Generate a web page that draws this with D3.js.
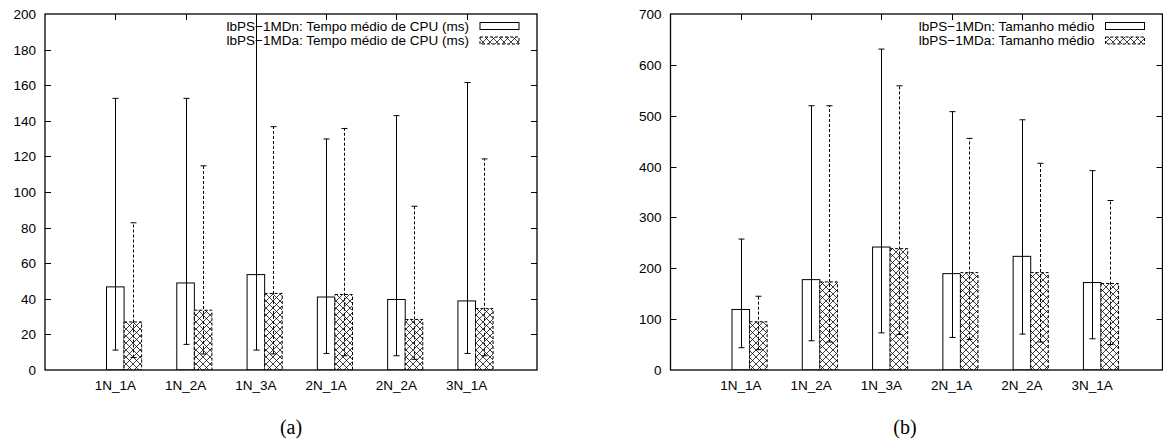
<!DOCTYPE html>
<html>
<head>
<meta charset="utf-8">
<script src="https://cdn.jsdelivr.net/npm/d3@7"></script>
<style>
  html, body { margin: 0; padding: 0; background: #fff; }
  svg { display: block; }
  text { font-family: "Liberation Sans", Arial, sans-serif; fill: #000; }
  .caption { font-family: "Liberation Serif", "DejaVu Serif", serif; }
</style>
</head>
<body>
<svg id="chart" width="1163" height="447"></svg>
<script>
// Configurations of nodes / agents
const categories = ["1N_1A", "1N_2A", "1N_3A", "2N_1A", "2N_2A", "3N_1A"];

// (a) mean CPU time (ms) with min/max range
const cpuMeanN = [46.7, 48.9, 53.6, 41.0, 39.6, 38.8];
const cpuLowN  = [11.2, 14.4, 11.2, 9.3, 8.0, 9.3];
const cpuHighN = [152.6, 152.6, 230, 129.8, 142.9, 161.5];
const cpuMeanA = [27.0, 33.6, 43.0, 42.4, 28.4, 34.5];
const cpuLowA  = [7, 9, 9, 8, 6, 8];
const cpuHighA = [82.7, 114.7, 136.7, 135.7, 92.0, 118.6];
const cpuTicks = [0, 20, 40, 60, 80, 100, 120, 140, 160, 180, 200];

// (b) mean size with min/max range
const sizeMeanN = [119, 177.7, 241.8, 189.5, 223.5, 172];
const sizeLowN  = [43.8, 57.5, 73, 64, 70.6, 61.4];
const sizeHighN = [257.5, 519.6, 631, 508, 492, 392];
const sizeMeanA = [94.8, 173.2, 238.6, 191.5, 191.5, 170];
const sizeLowA  = [40, 55, 70, 60, 55, 50];
const sizeHighA = [145, 519.6, 558.8, 455.5, 406.5, 333.3];
const sizeTicks = [0, 100, 200, 300, 400, 500, 600, 700];

const svg = d3.select("#chart");

// cross-hatch fill for the "1MDa" series
const defs = svg.append("defs");
const pat = defs.append("pattern")
  .attr("id", "xhatch")
  .attr("patternUnits", "userSpaceOnUse")
  .attr("width", 7).attr("height", 7);
pat.append("rect").attr("width", 7).attr("height", 7).attr("fill", "#fff");
pat.append("path")
  .attr("d", "M0,0L7,7M7,0L0,7M-1,6L1,8M6,-1L8,1")
  .attr("stroke", "#000").attr("stroke-width", 0.75).attr("fill", "none");
pat.append("rect").attr("x", 3).attr("y", 3).attr("width", 1).attr("height", 1).attr("fill", "#000");

function drawPanel(opts) {
  const { id, left, right, top, bottom, yMax, ticks, meanN, lowN, highN,
          meanA, lowA, highA, labelN, labelA } = opts;

  const x = d3.scaleLinear().domain([-1, 6]).range([left, right]);
  const y = d3.scaleLinear().domain([0, yMax]).range([bottom, top]);
  const g = svg.append("g");

  defs.append("clipPath").attr("id", "clip-" + id)
    .append("rect").attr("x", left).attr("y", top)
    .attr("width", right - left).attr("height", bottom - top);

  const plot = g.append("g").attr("clip-path", `url(#clip-${id})`);
  const half = 0.125;

  // bars
  plot.selectAll(".barN").data(meanN).join("rect")
    .attr("x", (d, i) => x(i - half))
    .attr("width", (d, i) => x(i + half) - x(i - half))
    .attr("y", d => y(d))
    .attr("height", d => y(0) - y(d))
    .attr("fill", "#fff").attr("stroke", "#000").attr("stroke-width", 1);

  plot.selectAll(".barA").data(meanA).join("rect")
    .attr("x", (d, i) => x(i + half))
    .attr("width", (d, i) => x(i + 3 * half) - x(i + half))
    .attr("y", d => y(d))
    .attr("height", d => y(0) - y(d))
    .attr("fill", "url(#xhatch)").attr("stroke", "#000")
    .attr("stroke-width", 1).attr("stroke-dasharray", "3,2");

  // range bars
  function ranges(lo, hi, offset, dashed) {
    const cap = 3;
    lo.forEach((l, i) => {
      const cx = Math.round(x(i + offset)) + 0.5;
      const h = hi[i];
      const line = plot.append("g").attr("stroke", "#000").attr("stroke-width", 1);
      line.append("line").attr("x1", cx).attr("x2", cx)
        .attr("y1", y(l)).attr("y2", y(h))
        .attr("stroke-dasharray", dashed ? "3,2" : null);
      line.append("line").attr("x1", cx - cap).attr("x2", cx + cap)
        .attr("y1", y(l)).attr("y2", y(l));
      line.append("line").attr("x1", cx - cap).attr("x2", cx + cap)
        .attr("y1", y(h)).attr("y2", y(h));
    });
  }
  ranges(lowN, highN, 0, false);
  ranges(lowA, highA, 2 * half, true);

  // frame
  g.append("rect").attr("x", left).attr("y", top)
    .attr("width", right - left).attr("height", bottom - top)
    .attr("fill", "none").attr("stroke", "#000").attr("stroke-width", 1.3);

  // y axis: labels on the left, inward ticks on both sides
  ticks.forEach(t => {
    const yy = Math.round(y(t)) + 0.5;
    if (t > 0 && t < yMax) {
      g.append("line").attr("x1", left).attr("x2", left + 6)
        .attr("y1", yy).attr("y2", yy).attr("stroke", "#000");
      g.append("line").attr("x1", right - 6).attr("x2", right)
        .attr("y1", yy).attr("y2", yy).attr("stroke", "#000");
    }
    g.append("text").attr("x", left - 9).attr("y", yy)
      .attr("text-anchor", "end").attr("dominant-baseline", "central")
      .attr("font-size", 13.5).text(t);
  });

  // x axis: category labels below, inward ticks on the top border
  categories.forEach((c, i) => {
    const xx = Math.round(x(i)) + 0.5;
    g.append("line").attr("x1", xx).attr("x2", xx)
      .attr("y1", top).attr("y2", top + 6).attr("stroke", "#000");
    g.append("text").attr("x", x(i)).attr("y", bottom + 20)
      .attr("text-anchor", "middle").attr("font-size", 13.5).text(c);
  });

  // legend, top right
  const boxR = right - 18, boxW = 39, boxH = 7;
  [[labelN, false], [labelA, true]].forEach(([lab, hatched], k) => {
    const cy = top + 12 + k * 14.5;
    g.append("text").attr("x", boxR - boxW - 11).attr("y", cy)
      .attr("text-anchor", "end").attr("dominant-baseline", "central")
      .attr("font-size", 13.5).text(lab);
    g.append("rect").attr("x", boxR - boxW).attr("y", cy - boxH / 2)
      .attr("width", boxW).attr("height", boxH)
      .attr("fill", hatched ? "url(#xhatch)" : "#fff")
      .attr("stroke", "#000").attr("stroke-width", 1)
      .attr("stroke-dasharray", hatched ? "3,2" : null);
  });
}

drawPanel({
  id: "a", left: 45, right: 537, top: 14, bottom: 370, yMax: 200, ticks: cpuTicks,
  meanN: cpuMeanN, lowN: cpuLowN, highN: cpuHighN,
  meanA: cpuMeanA, lowA: cpuLowA, highA: cpuHighA,
  labelN: "lbPS\u22121MDn: Tempo médio de CPU (ms)",
  labelA: "lbPS\u22121MDa: Tempo médio de CPU (ms)"
});

drawPanel({
  id: "b", left: 670.5, right: 1162.5, top: 14, bottom: 370, yMax: 700, ticks: sizeTicks,
  meanN: sizeMeanN, lowN: sizeLowN, highN: sizeHighN,
  meanA: sizeMeanA, lowA: sizeLowA, highA: sizeHighA,
  labelN: "lbPS\u22121MDn: Tamanho médio",
  labelA: "lbPS\u22121MDa: Tamanho médio"
});

// sub-figure captions
svg.append("text").attr("class", "caption").attr("x", 291).attr("y", 434)
  .attr("text-anchor", "middle").attr("font-size", 20).text("(a)");
svg.append("text").attr("class", "caption").attr("x", 905).attr("y", 434)
  .attr("text-anchor", "middle").attr("font-size", 20).text("(b)");
</script>
</body>
</html>
